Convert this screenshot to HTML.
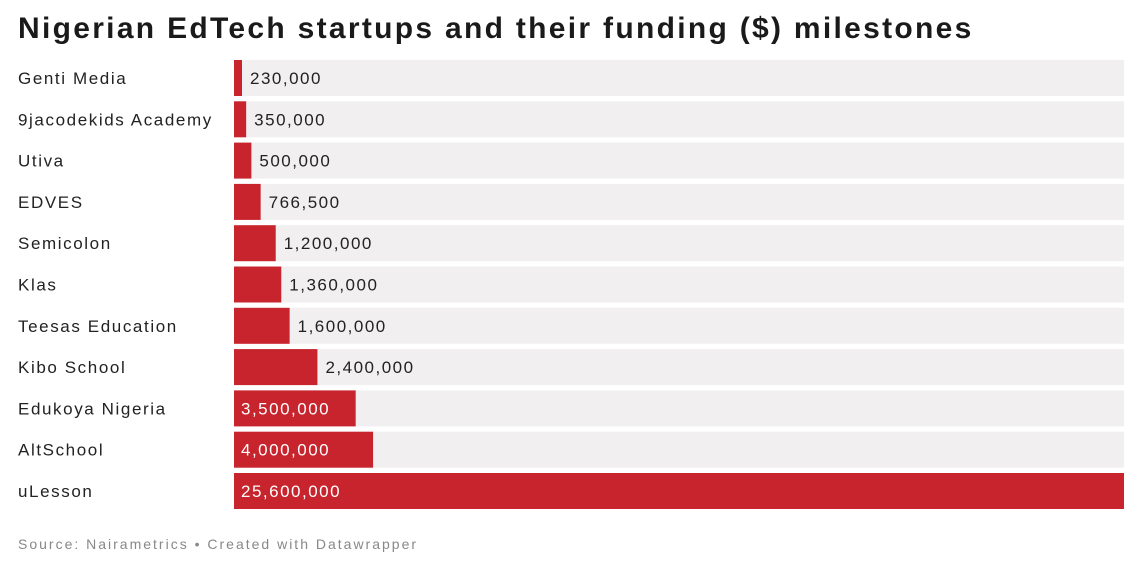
<!DOCTYPE html>
<html><head><meta charset="utf-8"><style>
body{margin:0;background:#fff;width:1143px;height:567px;overflow:hidden;font-family:"Liberation Sans",sans-serif}
#title{position:absolute;left:18px;top:12px;font-size:30px;font-weight:bold;color:#1a1a1a;margin:0;letter-spacing:2.3px;white-space:nowrap}
#src{position:absolute;left:18px;top:536px;font-size:14px;color:#888;letter-spacing:2px;white-space:nowrap}
</style></head><body>
<h1 id="title">Nigerian EdTech startups and their funding ($) milestones</h1>
<svg id="chart" width="1143" height="567" style="position:absolute;left:0;top:0"></svg>
<div id="src">Source: Nairametrics • Created with Datawrapper</div>
<script>
const categories=["Genti Media","9jacodekids Academy","Utiva","EDVES","Semicolon","Klas","Teesas Education","Kibo School","Edukoya Nigeria","AltSchool","uLesson"];
const values=[230000,350000,500000,766500,1200000,1360000,1600000,2400000,3500000,4000000,25600000];
const svg=document.getElementById('chart');
const NS='http://www.w3.org/2000/svg';
const x0=234,x1=1124,top0=60,pitch=41.3,bh=36;
const maxV=Math.max(...values);
const xs=v=>Math.max(8,(v/maxV)*(x1-x0));
const fmt=v=>v.toLocaleString('en-US');
categories.forEach((c,i)=>{
  const y=top0+i*pitch;
  const bg=document.createElementNS(NS,'rect');
  
  
  bg.setAttribute('x',x0);bg.setAttribute('y',y);bg.setAttribute('width',x1-x0);bg.setAttribute('height',bh);bg.setAttribute('fill','#f1efef');
  svg.appendChild(bg);
  const w=xs(values[i]);
  const r=document.createElementNS(NS,'rect');
  
  
  r.setAttribute('x',x0);r.setAttribute('y',y);r.setAttribute('width',w);r.setAttribute('height',bh);r.setAttribute('fill','#c8242d');
  svg.appendChild(r);
  const lab=document.createElementNS(NS,'text');
  
  
  lab.setAttribute('x',18);lab.setAttribute('y',y+bh/2+6);lab.setAttribute('font-size','17');lab.setAttribute('letter-spacing','1.6');lab.setAttribute('fill','#222');
  lab.textContent=c;svg.appendChild(lab);
  const inside=w>100;
  const vt=document.createElementNS(NS,'text');
  
  
  vt.setAttribute('x',inside?x0+7:x0+w+8);vt.setAttribute('y',y+bh/2+6);vt.setAttribute('font-size','17');vt.setAttribute('letter-spacing','1.5');vt.setAttribute('fill',inside?'#fff':'#222');
  vt.textContent=fmt(values[i]);svg.appendChild(vt);
});
</script>
</body></html>
